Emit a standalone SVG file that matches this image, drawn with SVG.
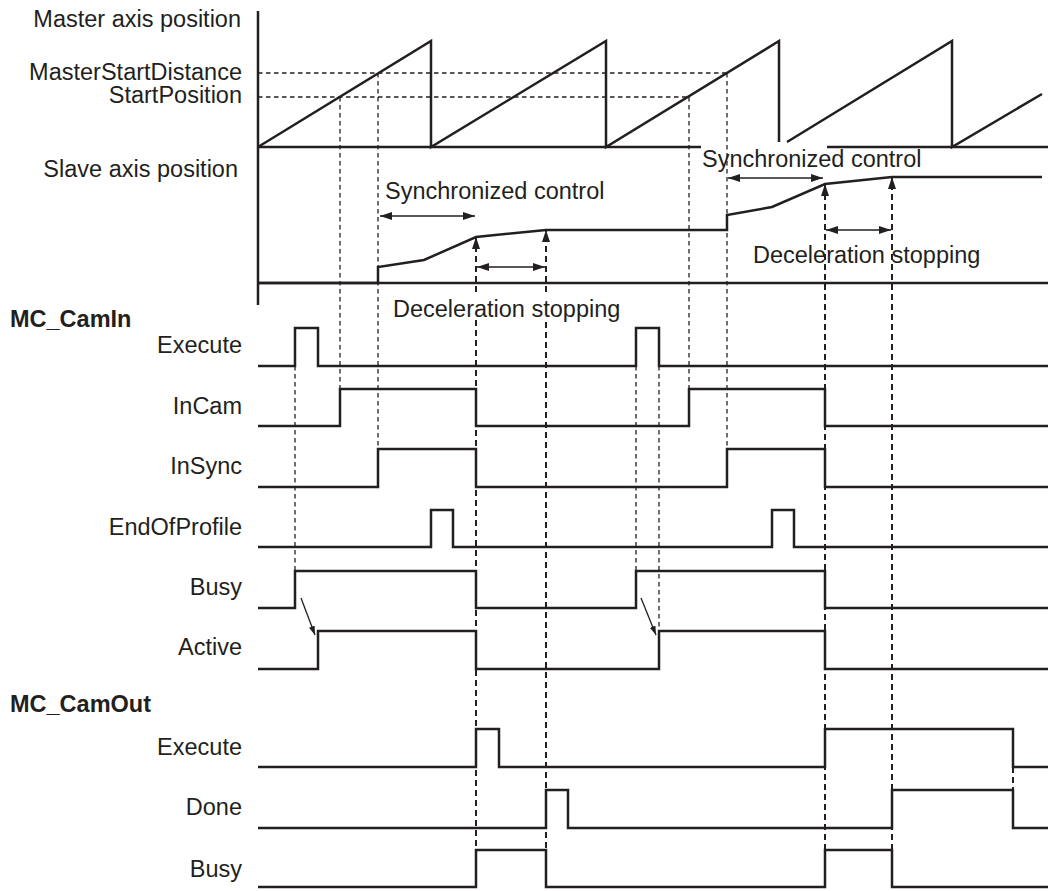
<svg xmlns="http://www.w3.org/2000/svg" width="1050" height="891" viewBox="0 0 1050 891">
<style>
text{font-family:"Liberation Sans",Arial,sans-serif;font-size:23.5px;fill:#231f20}
.lbl{text-anchor:end}
.b{font-weight:bold}
.sig{fill:none;stroke:#231f20;stroke-width:2.5;stroke-linejoin:miter}
.thin{fill:none;stroke:#231f20;stroke-width:1.3;stroke-dasharray:4.5,3.5}
.thick{fill:none;stroke:#231f20;stroke-width:2;stroke-dasharray:6,4}
.dbl{fill:none;stroke:#231f20;stroke-width:1.6;marker-start:url(#ah);marker-end:url(#ah)}
.up{fill:none;stroke:#231f20;stroke-width:2;stroke-dasharray:6,4;marker-end:url(#ah)}
.sm{fill:none;stroke:#231f20;stroke-width:1.3;marker-end:url(#ahs)}
</style>
<defs>
<marker id="ah" viewBox="0 0 12 8" refX="12" refY="4" markerWidth="12" markerHeight="8" markerUnits="userSpaceOnUse" orient="auto-start-reverse"><path d="M0,0 L12,4 L0,8 z" fill="#231f20"/></marker>
<marker id="ahs" viewBox="0 0 9 6" refX="9" refY="3" markerWidth="9" markerHeight="6" markerUnits="userSpaceOnUse" orient="auto"><path d="M0,0 L9,3 L0,6 z" fill="#231f20"/></marker>
</defs>

<g id="axes">
<path class="sig" d="M258,11 V305"/>
<path class="sig" d="M258,147 H701 M827,147 H1048"/>
<path class="sig" d="M258,283 H1048"/>
</g>

<g id="master-axis">
<text class="lbl" x="241" y="27">Master axis position</text>
<text class="lbl" x="242" y="80">MasterStartDistance</text>
<text class="lbl" x="242" y="103">StartPosition</text>
<path class="sig" d="M258,147 L431,41 V147 L606,41 V147 L779,41 V142 M787,142 L952,41 V147 L1042,94"/>
</g>

<g id="slave-axis">
<text class="lbl" x="238" y="177">Slave axis position</text>
<path class="sig" d="M258,283 H378 V267 L424,260 L476,237 L546,230 H727 V215 L772,207 L825,184 L892,177 H1042"/>
<text x="385" y="199">Synchronized control</text>
<text x="393" y="317">Deceleration stopping</text>
<text x="702" y="167">Synchronized control</text>
<text x="753" y="263">Deceleration stopping</text>
</g>

<g id="mc-camin">
<text class="b" x="10" y="327">MC_CamIn</text>
<text class="lbl" x="242" y="353">Execute</text>
<path class="sig" d="M258,366 H295 V328 H318 V366 H636 V328 H659 V366 H1048"/>
<text class="lbl" x="242" y="414">InCam</text>
<path class="sig" d="M258,426 H340 V389 H476 V426 H689 V389 H825 V426 H1048"/>
<text class="lbl" x="242" y="474">InSync</text>
<path class="sig" d="M258,487 H378 V449 H476 V487 H727 V449 H825 V487 H1048"/>
<text class="lbl" x="242" y="535">EndOfProfile</text>
<path class="sig" d="M258,547 H431 V510 H453 V547 H772 V510 H794 V547 H1048"/>
<text class="lbl" x="242" y="595">Busy</text>
<path class="sig" d="M258,608 H295 V571 H476 V608 H636 V571 H825 V608 H1048"/>
<text class="lbl" x="242" y="655">Active</text>
<path class="sig" d="M258,669 H318 V631 H476 V669 H659 V631 H825 V669 H1048"/>
</g>

<g id="mc-camout">
<text class="b" x="10" y="712">MC_CamOut</text>
<text class="lbl" x="242" y="755">Execute</text>
<path class="sig" d="M258,767 H476 V729 H499 V767 H825 V729 H1013 V767 H1048"/>
<text class="lbl" x="242" y="815">Done</text>
<path class="sig" d="M258,828 H546 V790 H568 V828 H892 V790 H1013 V828 H1048"/>
<text class="lbl" x="242" y="877">Busy</text>
<path class="sig" d="M258,887 H476 V850 H546 V887 H825 V850 H892 V887 H1048"/>
</g>

<g id="connectors">
<path class="thin" d="M258,73 H727 M258,97 H689"/>
<path class="thin" d="M340,97 V389 M378,73 V449 M689,97 V389 M727,73 V449"/>
<path class="thin" d="M295,366 V571 M636,366 V571 M659,366 V631"/>
<path class="up" d="M476,292 V237"/>
<path class="thick" d="M476,320 V850"/>
<path class="up" d="M546,292 V230"/>
<path class="thick" d="M546,322 V850"/>
<path class="up" d="M825,850 V184"/>
<path class="up" d="M892,850 V177"/>
<path class="thick" d="M1013,767 V790"/>
<path class="dbl" d="M380,216 H475"/>
<path class="dbl" d="M477,267 H545"/>
<path class="dbl" d="M728,178 H823"/>
<path class="dbl" d="M826,230 H891"/>
<path class="sm" d="M301,598 L315,635"/>
<path class="sm" d="M641,598 L656,635"/>
</g>
</svg>
